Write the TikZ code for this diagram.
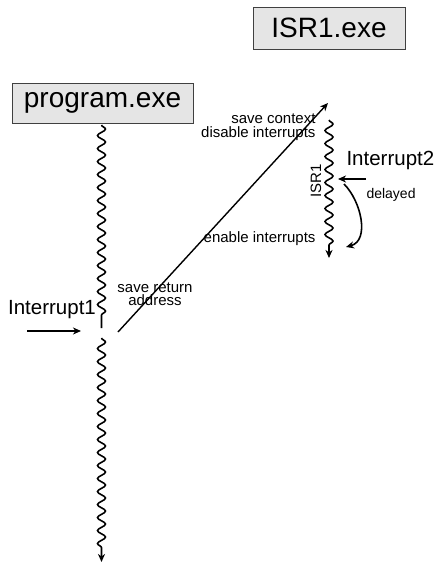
\documentclass[tikz,border=0pt]{standalone}
\usepackage{fontspec}
\setmainfont{Liberation Sans}
\usetikzlibrary{decorations.pathmorphing,arrows.meta}
\begin{document}
\begin{tikzpicture}[x=1pt,y=-1pt,
  >={Stealth[length=8pt,width=7pt,inset=2.5pt]},
  exebox/.style={draw=black!75,line width=1pt,fill=black!10,inner sep=0pt,font=\fontsize{28}{30}\selectfont},
  wave/.style={decorate,line width=1.6pt,decoration={snake,amplitude=4pt,segment length=13pt,post length=8pt}},
  arr/.style={->,line width=1.6pt},
  big/.style={font=\fontsize{20.5}{22}\selectfont},
  small/.style={font=\fontsize{15}{13.5}\selectfont}]
\useasboundingbox (0,0) rectangle (438,563);
% executables
\node[exebox,minimum width=181pt,minimum height=40pt] (prog) at (102.5,103) {program.exe};
\node[exebox,minimum width=152pt,minimum height=42pt] (isr) at (329,28) {ISR1.exe};
% program thread
\coordinate (p1) at (101.5,125);
\coordinate (p2) at (101.5,328);
\coordinate (p3) at (101.5,338);
\coordinate (p4) at (101.5,562);
\draw[wave] (p1) -- (p2);
\draw[wave,->] (p3) -- (p4);
% ISR thread
\coordinate (i1) at (329,120);
\coordinate (i2) at (329,258);
\draw[wave,->] (i1) -- (i2);
\node[small,rotate=90] (isrlbl) at (316,181) {ISR1};
% jump to ISR
\coordinate (j1) at (118,332);
\coordinate (j2) at (328,103);
\draw[->,line width=1.4pt] (j1) -- (j2);
\node[small,align=center] (ret) at (155,294) {save return\\address};
\node[small,align=right,anchor=east] (ctx) at (319,127) {save context\\disable interrupts};
\node[small,anchor=east] (ena) at (319,239) {enable interrupts};
% interrupts
\node[big] (int1) at (52,310) {Interrupt1};
\coordinate (a1) at (27,331);
\coordinate (a2) at (81,331);
\draw[arr] (a1) -- (a2);
\node[big,anchor=west] (int2) at (343,160) {Interrupt2};
\coordinate (b1) at (366,179);
\coordinate (b2) at (338,179);
\draw[arr] (b1) -- (b2);
\coordinate (d1) at (344,184);
\coordinate (d2) at (346,247);
\draw[arr] (d1) to[out=-45,in=15] (d2);
\node[font=\fontsize{14}{15}\selectfont,anchor=west] (dly) at (363,195) {delayed};
\end{tikzpicture}
\end{document}
